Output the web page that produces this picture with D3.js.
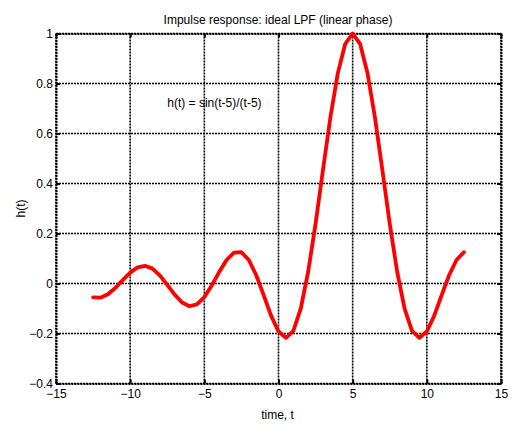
<!DOCTYPE html>
<html>
<head>
<meta charset="utf-8">
<script src="https://cdn.jsdelivr.net/npm/d3@7"></script>
<style>
  html, body { margin: 0; padding: 0; background: #fff; }
  svg text { font-family: "Liberation Sans", Arial, sans-serif; fill: #000; }
</style>
</head>
<body>
<svg id="chart" width="513" height="426"></svg>
<script>
// Sample times and impulse response values h(t)
const tValues = [
  -12.5, -12, -11.5, -11, -10.5, -10, -9.5, -9, -8.5, -8, -7.5, -7, -6.5, -6,
  -5.5, -5, -4.5, -4, -3.5, -3, -2.5, -2, -1.5, -1, -0.5, 0, 0.5, 1, 1.5, 2,
  2.5, 3, 3.5, 4, 4.5, 5, 5.5, 6, 6.5, 7, 7.5, 8, 8.5, 9, 9.5, 10, 10.5, 11,
  11.5, 12, 12.5
];
const hValues = [
  -0.0557, -0.0566, -0.0431, -0.0180, 0.0133, 0.0434, 0.0645, 0.0708, 0.0595,
  0.0323, -0.0053, -0.0447, -0.0761, -0.0909, -0.0838, -0.0544, -0.0079, 0.0458,
  0.0939, 0.1237, 0.1251, 0.0939, 0.0331, -0.0466, -0.1283, -0.1918, -0.2172,
  -0.1892, -0.1002, 0.0470, 0.2394, 0.4546, 0.6650, 0.8415, 0.9589, 1.0000,
  0.9589, 0.8415, 0.6650, 0.4546, 0.2394, 0.0470, -0.1002, -0.1892, -0.2172,
  -0.1918, -0.1283, -0.0466, 0.0331, 0.0939, 0.1251
];
const xTicks = [-15, -10, -5, 0, 5, 10, 15];
const yTicks = [-0.4, -0.2, 0, 0.2, 0.4, 0.6, 0.8, 1];
const titleText = "Impulse response: ideal LPF (linear phase)";
const xLabelText = "time, t";
const yLabelText = "h(t)";
const noteText = "h(t) = sin(t-5)/(t-5)";
const notePos = [-7.5, 0.72];

const svg = d3.select("#chart");
const plot = { left: 56, right: 501, top: 33.5, bottom: 383.5 };
const fontSize = 12;

const x = d3.scaleLinear().domain([-15, 15]).range([plot.left, plot.right]);
const y = d3.scaleLinear().domain([-0.4, 1]).range([plot.bottom, plot.top]);

const g = svg.append("g");

// Dotted grid
const grid = g.append("g").attr("stroke", "#000").attr("stroke-width", 1.6)
  .attr("stroke-dasharray", "2,1").attr("fill", "none");
xTicks.forEach(v => {
  grid.append("line").attr("x1", x(v)).attr("x2", x(v))
    .attr("y1", plot.top).attr("y2", plot.bottom);
});
yTicks.forEach(v => {
  grid.append("line").attr("x1", plot.left).attr("x2", plot.right)
    .attr("y1", y(v)).attr("y2", y(v));
});

// Axes with inward ticks on all four sides
const tickLen = 4;
const fmt = d => (Math.abs(d) < 1e-9 ? "0" : d3.format("~g")(d));
const axB = g.append("g").attr("transform", `translate(0,${plot.bottom})`)
  .call(d3.axisBottom(x).tickValues(xTicks).tickSizeInner(-tickLen).tickSizeOuter(0).tickPadding(6).tickFormat(fmt));
const axT = g.append("g").attr("transform", `translate(0,${plot.top})`)
  .call(d3.axisTop(x).tickValues(xTicks).tickSizeInner(-tickLen).tickSizeOuter(0).tickFormat(""));
const axL = g.append("g").attr("transform", `translate(${plot.left},0)`)
  .call(d3.axisLeft(y).tickValues(yTicks).tickSizeInner(-tickLen).tickSizeOuter(0).tickPadding(3).tickFormat(fmt));
const axR = g.append("g").attr("transform", `translate(${plot.right},0)`)
  .call(d3.axisRight(y).tickValues(yTicks).tickSizeInner(-tickLen).tickSizeOuter(0).tickFormat(""));
[axB, axT, axL, axR].forEach(a => {
  a.select(".domain").attr("stroke", "#000").attr("stroke-width", 2).attr("stroke-dasharray", "2,1");
  a.selectAll(".tick line").attr("stroke", "#000").attr("stroke-width", 2);
  a.selectAll("text").attr("font-size", fontSize).style("font-family", "'Liberation Sans', Arial, sans-serif").attr("fill", "#000");
});

// Response curve
const line = d3.line().x((d, i) => x(tValues[i])).y(d => y(d));
g.append("path").datum(hValues)
  .attr("d", line)
  .attr("fill", "none")
  .attr("stroke", "#ff0000")
  .attr("stroke-width", 3.8)
  .attr("stroke-linejoin", "round")
  .attr("stroke-linecap", "round");

// Annotation
g.append("text").attr("x", x(notePos[0])).attr("y", y(notePos[1]))
  .attr("dominant-baseline", "middle").attr("font-size", fontSize).text(noteText);

// Title and axis labels
svg.append("text").attr("x", 278).attr("y", 23.5)
  .attr("text-anchor", "middle").attr("font-size", fontSize).text(titleText);
svg.append("text").attr("x", 277.5).attr("y", 418.5)
  .attr("text-anchor", "middle").attr("font-size", fontSize).text(xLabelText);
svg.append("text")
  .attr("transform", `translate(24.5,${(plot.top + plot.bottom) / 2}) rotate(-90)`)
  .attr("text-anchor", "middle").attr("font-size", fontSize).text(yLabelText);
</script>
</body>
</html>
